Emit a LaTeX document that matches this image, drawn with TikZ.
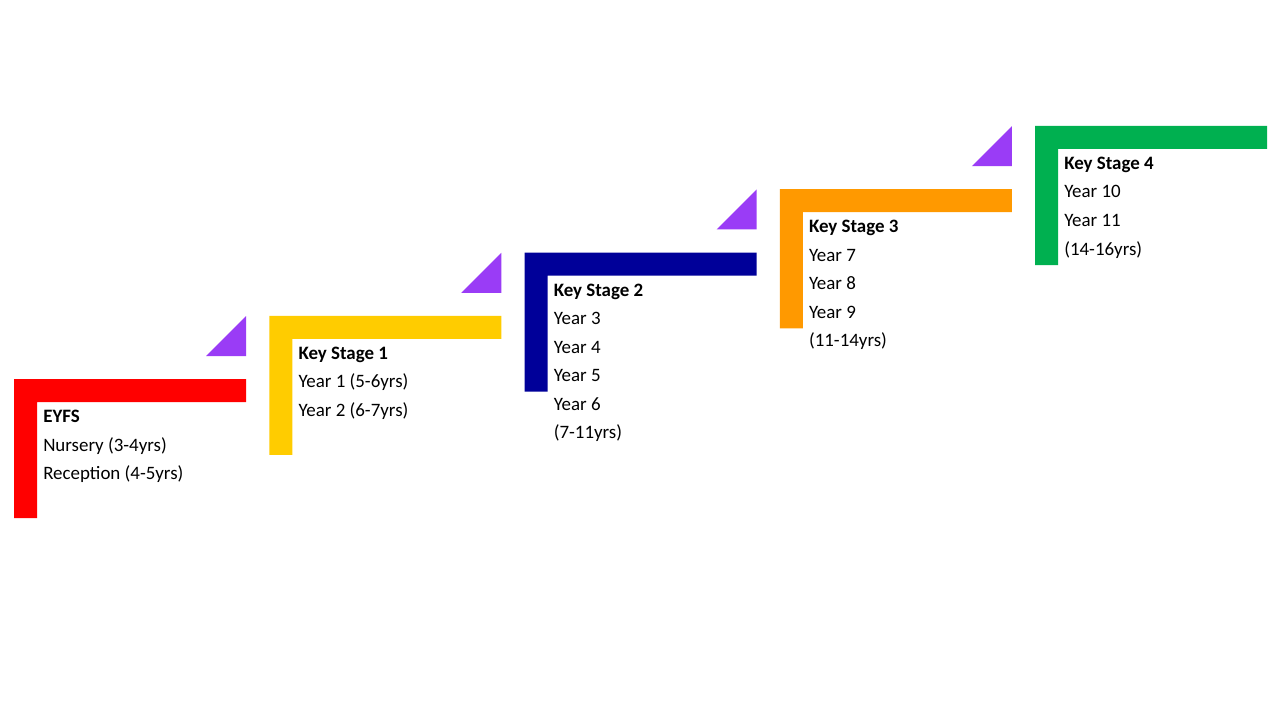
\documentclass[tikz,border=0pt]{standalone}
\usepackage{fontspec}
\setmainfont{Carlito}
\definecolor{sred}{HTML}{FF0000}
\definecolor{syellow}{HTML}{FFCC00}
\definecolor{snavy}{HTML}{000099}
\definecolor{sorange}{HTML}{FF9900}
\definecolor{sgreen}{HTML}{00B050}
\definecolor{spurple}{HTML}{9A3CF6}
\begin{document}
\begin{tikzpicture}[x=0.75pt,y=-0.75pt,
  lshape/.style={fill=#1, draw=none},
  tri/.style={fill=spurple, draw=none},
  lbl/.style={anchor=base west, inner sep=0pt, font=\fontsize{14.2}{17}\selectfont},
  ttl/.style={anchor=base west, inner sep=0pt, font=\fontsize{14.2}{17}\selectfont\bfseries}]
\useasboundingbox[fill=white] (0,0) rectangle (1280,720);
\newcommand{\stageshape}[1]{%
  \fill[lshape=#1] (0,0) -- (232,0) -- (232,23) -- (23,23) -- (23,139) -- (0,139) -- cycle;}
\newcommand{\stagetri}{%
  \fill[tri] (192,-23) -- (232,-23) -- (232,-63) -- cycle;}
% Stage 0: EYFS
\begin{scope}[shift={(14,379)}]
  \stageshape{sred}\stagetri
  \node[ttl] (s0t) at (29,43.5) {EYFS};
  \node[lbl] (s0a) at (29,72) {Nursery (3-4yrs)};
  \node[lbl] (s0b) at (29,100.5) {Reception (4-5yrs)};
\end{scope}
% Stage 1
\begin{scope}[shift={(269.25,315.75)}]
  \stageshape{syellow}\stagetri
  \node[ttl] (s1t) at (29,43.5) {Key Stage 1};
  \node[lbl] (s1a) at (29,72) {Year 1 (5-6yrs)};
  \node[lbl] (s1b) at (29,100.5) {Year 2 (6-7yrs)};
\end{scope}
% Stage 2
\begin{scope}[shift={(524.5,252.5)}]
  \stageshape{snavy}\stagetri
  \node[ttl] (s2t) at (29,43.5) {Key Stage 2};
  \node[lbl] (s2a) at (29,72) {Year 3};
  \node[lbl] (s2b) at (29,100.5) {Year 4};
  \node[lbl] (s2c) at (29,129) {Year 5};
  \node[lbl] (s2d) at (29,157.5) {Year 6};
  \node[lbl] (s2e) at (29,186) {(7-11yrs)};
\end{scope}
% Stage 3
\begin{scope}[shift={(779.75,189.25)}]
  \stageshape{sorange}\stagetri
  \node[ttl] (s3t) at (29,43.5) {Key Stage 3};
  \node[lbl] (s3a) at (29,72) {Year 7};
  \node[lbl] (s3b) at (29,100.5) {Year 8};
  \node[lbl] (s3c) at (29,129) {Year 9};
  \node[lbl] (s3d) at (29,157.5) {(11-14yrs)};
\end{scope}
% Stage 4
\begin{scope}[shift={(1035,126)}]
  \stageshape{sgreen}
  \node[ttl] (s4t) at (29,43.5) {Key Stage 4};
  \node[lbl] (s4a) at (29,72) {Year 10};
  \node[lbl] (s4b) at (29,100.5) {Year 11};
  \node[lbl] (s4c) at (29,129) {(14-16yrs)};
\end{scope}
\end{tikzpicture}
\end{document}
